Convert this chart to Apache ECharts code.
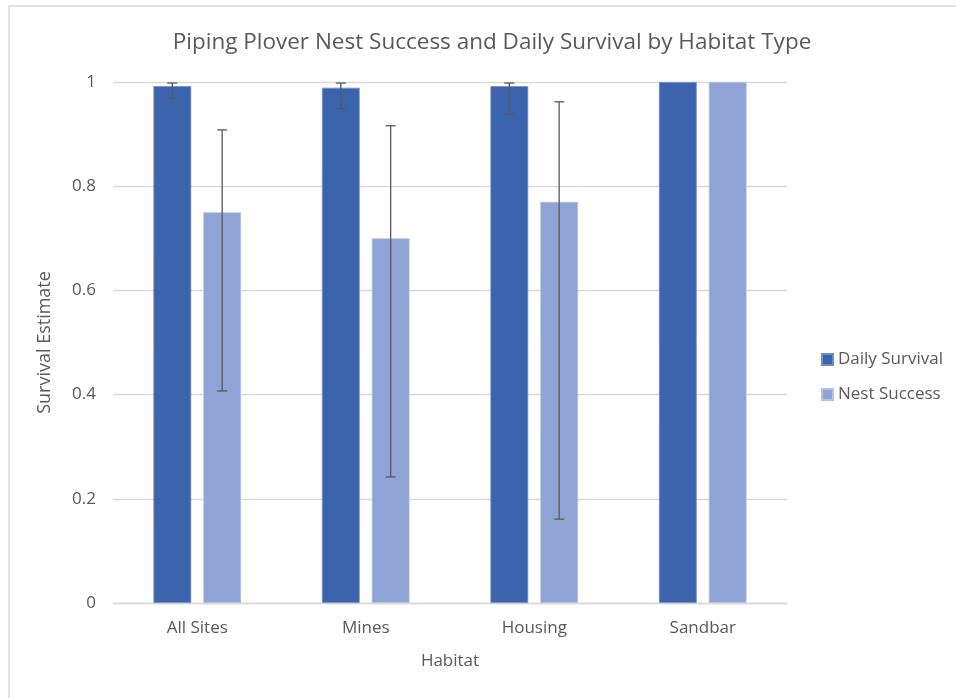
<!DOCTYPE html>
<html>
<head>
<meta charset="utf-8">
<script src="https://cdn.jsdelivr.net/npm/echarts@6/dist/echarts.min.js"></script>
<style>
html,body{margin:0;padding:0;background:#fff;}
#chart{width:956px;height:698px;}
</style>
</head>
<body>
<div id="chart"></div>
<script>
const categories = ['All Sites', 'Mines', 'Housing', 'Sandbar'];
const dailySurvival = [0.992, 0.989, 0.992, 1];
const nestSuccess = [0.75, 0.70, 0.77, 1];
const dailyLow = [0.969, 0.949, 0.938, null];
const dailyHigh = [0.998, 0.998, 0.998, null];
const nestLow = [0.407, 0.242, 0.161, null];
const nestHigh = [0.908, 0.916, 0.962, null];
const yTicks = [0, 0.2, 0.4, 0.6, 0.8, 1];

const FONT = 'Open Sans';
const TXT = '#595959';
const CAT_GAP = 0.48, BAR_GAP = 0.32;

function errorSeries(low, high, side) {
  const data = categories.map((c, i) => [i, low[i], high[i]]);
  return {
    type: 'custom',
    silent: true,
    z: 10,
    data: data,
    renderItem: function (params, api) {
      const lo = api.value(1), hi = api.value(2);
      if (lo === null || hi === null || isNaN(lo) || isNaN(hi)) return;
      const idx = api.value(0);
      const band = api.size([1, 0])[0];
      const w = band * (1 - CAT_GAP) / (2 + BAR_GAP);
      const off = side * (w + BAR_GAP * w) / 2;
      const pLo = api.coord([idx, lo]);
      const pHi = api.coord([idx, hi]);
      const x = pLo[0] + off;
      const cap = 5;
      const style = { stroke: '#595959', lineWidth: 1.3 };
      return {
        type: 'group',
        children: [
          { type: 'line', shape: { x1: x, y1: pLo[1], x2: x, y2: pHi[1] }, style: style },
          { type: 'line', shape: { x1: x - cap, y1: pLo[1], x2: x + cap, y2: pLo[1] }, style: style },
          { type: 'line', shape: { x1: x - cap, y1: pHi[1], x2: x + cap, y2: pHi[1] }, style: style }
        ]
      };
    }
  };
}

const chart = echarts.init(document.getElementById('chart'));
chart.setOption({
  animation: false,
  backgroundColor: '#fff',
  textStyle: { fontFamily: FONT, color: TXT },
  graphic: [{
    type: 'rect', shape: { x: 9, y: 6, width: 960, height: 700 },
    style: { fill: 'none', stroke: '#d9d9d9', lineWidth: 1.5 }, z: -1, silent: true
  }],
  title: {
    text: 'Piping Plover Nest Success and Daily Survival by Habitat Type',
    left: 487, top: 26, textAlign: 'center',
    textStyle: { fontFamily: FONT, fontSize: 22.5, fontWeight: 'normal', color: TXT }
  },
  legend: {
    orient: 'vertical', left: 816, top: 346,
    itemWidth: 11, itemHeight: 11, itemGap: 18,
    icon: 'rect',
    textStyle: { fontFamily: FONT, fontSize: 17, color: TXT, padding: [0, 0, 0, 0] },
    data: ['Daily Survival', 'Nest Success']
  },
  grid: { left: 113, right: 169, top: 82, bottom: 95, containLabel: false },
  xAxis: {
    type: 'category', data: categories,
    name: 'Habitat', nameLocation: 'middle', nameGap: 50,
    nameTextStyle: { fontFamily: FONT, fontSize: 17, color: TXT },
    axisLine: { lineStyle: { color: '#d9d9d9', width: 1.3 } },
    axisTick: { show: false },
    axisLabel: { fontFamily: FONT, fontSize: 17, color: TXT, margin: 17 }
  },
  yAxis: {
    type: 'value', min: 0, max: 1, interval: 0.2,
    name: 'Survival Estimate', nameLocation: 'middle', nameGap: 59,
    nameTextStyle: { fontFamily: FONT, fontSize: 18, color: TXT },
    axisLine: { show: false }, axisTick: { show: false },
    axisLabel: { fontFamily: FONT, fontSize: 17, color: TXT, margin: 17,
      formatter: function (v) { const t = yTicks.find(k => Math.abs(k - v) < 1e-9); return String(t !== undefined ? t : v); } },
    splitLine: { lineStyle: { color: '#d9d9d9', width: 1.3 } }
  },
  series: [
    { name: 'Daily Survival', type: 'bar', data: dailySurvival,
      barCategoryGap: (CAT_GAP * 100) + '%', barGap: (BAR_GAP * 100) + '%',
      itemStyle: { color: '#3C64AD', borderColor: '#6f8cc6', borderWidth: 0.8 } },
    { name: 'Nest Success', type: 'bar', data: nestSuccess,
      barCategoryGap: (CAT_GAP * 100) + '%', barGap: (BAR_GAP * 100) + '%',
      itemStyle: { color: '#8FA4D5', borderColor: '#b4c2e4', borderWidth: 0.8 } },
    errorSeries(dailyLow, dailyHigh, -1),
    errorSeries(nestLow, nestHigh, 1)
  ]
});
</script>
</body>
</html>
